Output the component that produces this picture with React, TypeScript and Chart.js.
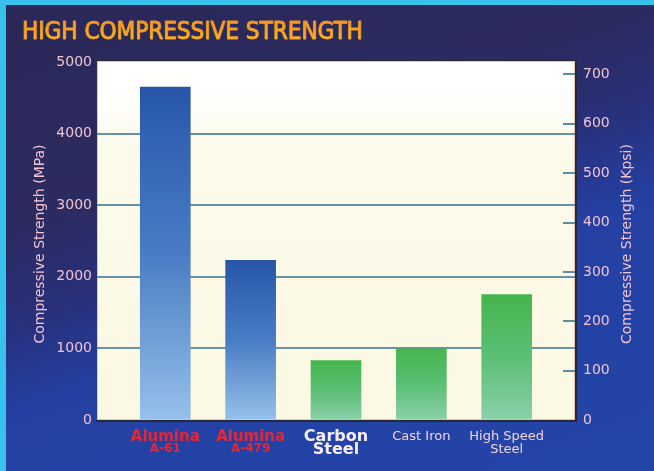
import React, { useEffect, useRef } from 'react';
import { Chart, registerables } from 'chart.js';

Chart.register(...registerables);

// ---- data ----
const categories = ['Alumina A-61', 'Alumina A-479', 'Carbon Steel', 'Cast Iron', 'High Speed Steel'];
const labelLine1 = ['Alumina', 'Alumina', 'Carbon', 'Cast Iron', 'High Speed'];
const labelLine2 = ['A-61', 'A-479', 'Steel', '', 'Steel'];
const material = ['ceramic', 'ceramic', 'metal', 'metal', 'metal'];
const strengthMPa = [4650, 2230, 830, 995, 1750];
const mpaTicks = [0, 1000, 2000, 3000, 4000, 5000];
const kpsiTicks = [0, 100, 200, 300, 400, 500, 600, 700];
const KPSI_PER_MPA = 0.1450377;
const titleText = 'HIGH COMPRESSIVE STRENGTH';
const leftAxisTitle = 'Compressive Strength (MPa)';
const rightAxisTitle = 'Compressive Strength (Kpsi)';

// ---- styles ----
const FONT = '"DejaVu Sans", Verdana, sans-serif';
const AXIS_TEXT = '#f2c3d1';
const labelStyle: Record<string, any> = {
  'Alumina A-61': { f1: `bold 15px ${FONT}`, c1: '#ea2530', f2: `bold 12px ${FONT}`, c2: '#ea2530', y1: 437, y2: 449 },
  'Alumina A-479': { f1: `bold 15px ${FONT}`, c1: '#ea2530', f2: `bold 12px ${FONT}`, c2: '#ea2530', y1: 437, y2: 449 },
  'Carbon Steel': { f1: `bold 16px ${FONT}`, c1: '#f6eef4', f2: `bold 16px ${FONT}`, c2: '#f6eef4', y1: 437, y2: 450 },
  'Cast Iron': { f1: `13px ${FONT}`, c1: '#f3d3e0', f2: `13px ${FONT}`, c2: '#f3d3e0', y1: 437, y2: 449 },
  'High Speed Steel': { f1: `13px ${FONT}`, c1: '#f3d3e0', f2: `13px ${FONT}`, c2: '#f3d3e0', y1: 437, y2: 450 },
};
const gradStops: Record<string, [string, string, string]> = {
  ceramic: ['#2756a9', '#4a7cc4', '#95c1e9'],
  metal: ['#45b54c', '#5bbf76', '#8bd0a9'],
};

const decorPlugin = {
  id: 'decor',
  beforeDraw(chart: any) {
    const { ctx, chartArea: a } = chart;
    ctx.save();
    const g = ctx.createLinearGradient(0, a.top, 0, a.bottom);
    g.addColorStop(0, '#ffffff');
    g.addColorStop(0.12, '#fefefb');
    g.addColorStop(0.24, '#fcfaea');
    g.addColorStop(1, '#fbf8e3');
    ctx.fillStyle = g;
    ctx.fillRect(a.left, a.top, a.right - a.left, a.bottom - a.top);
    ctx.fillStyle = '#26263c';
    ctx.fillRect(a.left - 1, a.top - 2, a.right - a.left + 3, 1);
    ctx.fillRect(a.right, a.top - 1, 2, a.bottom - a.top + 3);
    ctx.fillRect(a.left - 1, a.bottom, a.right - a.left + 3, 2);
    ctx.strokeStyle = '#ecc3b2';
    ctx.lineWidth = 1;
    ctx.strokeRect(a.left + 0.5, a.top - 0.5, a.right - a.left - 1, a.bottom - a.top);
    ctx.restore();
  },
  beforeDatasetsDraw(chart: any) {
    const { ctx, chartArea: a } = chart;
    const s = chart.scales.y2;
    ctx.save();
    ctx.strokeStyle = '#5f8b9d';
    ctx.lineWidth = 2;
    kpsiTicks.forEach((v) => {
      if (v === 0) return;
      const y = Math.round(s.getPixelForValue(v));
      ctx.beginPath();
      ctx.moveTo(a.right - 12, y);
      ctx.lineTo(a.right, y);
      ctx.stroke();
    });
    ctx.restore();
  },
  afterDraw(chart: any) {
    const { ctx, chartArea: a } = chart;
    const xs = chart.scales.x;
    ctx.save();
    ctx.textAlign = 'center';
    ctx.textBaseline = 'middle';
    categories.forEach((c, i) => {
      const st = labelStyle[c];
      const x = xs.getPixelForValue(i);
      ctx.font = st.f1;
      ctx.fillStyle = st.c1;
      ctx.fillText(labelLine1[i], x, st.y1);
      if (labelLine2[i]) {
        ctx.font = st.f2;
        ctx.fillStyle = st.c2;
        ctx.fillText(labelLine2[i], x, st.y2);
      }
    });
    // axis titles (both read bottom-to-top)
    ctx.font = `14px ${FONT}`;
    ctx.fillStyle = AXIS_TEXT;
    const cy = (a.top + a.bottom) / 2 + 3;
    [[40, leftAxisTitle], [627, rightAxisTitle]].forEach(([x, t]: any) => {
      ctx.save();
      ctx.translate(x, cy);
      ctx.rotate(-Math.PI / 2);
      ctx.fillText(t, 0, 0);
      ctx.restore();
    });
    ctx.restore();
  },
};

export default function App() {
  const ref = useRef<HTMLCanvasElement>(null);
  useEffect(() => {
    document.body.style.margin = '0';
    const canvas = ref.current;
    if (!canvas) return;
    const chart = new Chart(canvas, {
      type: 'bar',
      data: {
        datasets: [
          {
            data: strengthMPa.map((v, i) => ({ x: i, y: v })),
            barThickness: 50,
            borderWidth: 0,
            backgroundColor: (c: any) => {
              const ch = c.chart;
              const i = c.dataIndex ?? 0;
              const stops = gradStops[material[i]];
              const ys = ch.scales && ch.scales.y;
              if (!ys || !ch.chartArea) return stops[1];
              const top = ys.getPixelForValue(strengthMPa[i]);
              const bottom = ys.getPixelForValue(0);
              const g = ch.ctx.createLinearGradient(0, top, 0, bottom);
              g.addColorStop(0, stops[0]);
              g.addColorStop(0.5, stops[1]);
              g.addColorStop(1, stops[2]);
              return g;
            },
          },
        ],
      },
      options: {
        responsive: false,
        animation: false,
        devicePixelRatio: 1,
        layout: { padding: { left: 0, right: 0, top: 62, bottom: 51 } },
        plugins: { legend: { display: false }, tooltip: { enabled: false }, title: { display: false } },
        scales: {
          x: { type: 'linear', min: -0.8, max: 4.8, offset: false, display: false, grid: { offset: false } },
          y: {
            position: 'left',
            min: mpaTicks[0],
            max: mpaTicks[mpaTicks.length - 1],
            afterFit: (s: any) => { s.width = 97; },
            ticks: {
              stepSize: 1000,
              color: AXIS_TEXT,
              font: { family: FONT, size: 14 },
              padding: 5,
              callback: (v: any) => String(v),
            },
            grid: {
              drawTicks: false,
              lineWidth: 2,
              color: (c: any) =>
                c.tick && (c.tick.value === mpaTicks[0] || c.tick.value === mpaTicks[mpaTicks.length - 1])
                  ? 'rgba(0,0,0,0)'
                  : '#6893a6',
            },
            border: { display: false },
          },
          y2: {
            position: 'right',
            min: 0,
            max: mpaTicks[mpaTicks.length - 1] * KPSI_PER_MPA,
            afterFit: (s: any) => { s.width = 79; },
            ticks: {
              stepSize: 100,
              includeBounds: false,
              color: AXIS_TEXT,
              font: { family: FONT, size: 14 },
              padding: 8,
              callback: (v: any) => String(v),
            },
            grid: { display: false, drawTicks: false },
            border: { display: false },
          },
        },
      },
      plugins: [decorPlugin],
    } as any);
    return () => chart.destroy();
  }, []);

  return (
    <div style={{ position: 'absolute', left: 0, top: 0, width: 654, height: 471, background: '#36c2ec', overflow: 'hidden' }}>
      <div
        style={{
          position: 'absolute',
          left: 6,
          top: 5,
          right: 0,
          bottom: 0,
          background:
            'linear-gradient(161deg, #2a2858 0%, #2c2b60 32%, #28307a 46%, #2440a2 60%, #2345aa 100%)',
        }}
      />
      <div
        style={{
          position: 'absolute',
          left: 22,
          top: 19,
          fontFamily: '"DejaVu Sans Condensed", "DejaVu Sans", sans-serif',
          fontStretch: 'condensed',
          fontSize: 24,
          lineHeight: 1,
          whiteSpace: 'nowrap',
          background: 'linear-gradient(180deg, #f2921d 0%, #f7a823 55%, #fcc22e 100%)',
          WebkitBackgroundClip: 'text',
          backgroundClip: 'text',
          color: 'transparent',
          WebkitTextStroke: '0.6px #f4a021',
        }}
      >
        {titleText}
      </div>
      <canvas ref={ref} width={654} height={471} style={{ position: 'absolute', left: 0, top: 0 }} />
    </div>
  );
}
